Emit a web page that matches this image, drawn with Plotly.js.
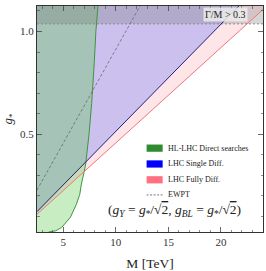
<!DOCTYPE html>
<html>
<head>
<meta charset="utf-8">
<script src="https://cdn.plot.ly/plotly-3.0.1.min.js"></script>
<style>html,body{margin:0;padding:0;background:#fff;}#chart{width:266px;height:271px;}</style>
</head>
<body>
<div id="chart"></div>
<script>
// ---- data ----
const xRange = [2.5, 24];
const yRange = [0.024, 1.124];
const gTop = 1.3;                 // fill ceiling (beyond visible range)
const widthBoundG = 1.037;        // Gamma/M > 0.3 threshold in g*
// HL-LHC direct searches boundary (excluded to the left)
const directM = [3.4, 3.6, 4.3, 4.86, 5.67, 6.24, 6.57, 6.72, 7.0, 7.14, 7.45, 7.7, 7.95, 8.1, 8.3, 8.35];
const directG = [0.0, 0.024, 0.03, 0.047, 0.095, 0.158, 0.207, 0.257, 0.32, 0.358, 0.5, 0.65, 0.85, 1.0, 1.124, 1.2];
// LHC single differential bound (excluded above)
const singleM = [2.5, 24];
const singleG = [0.123, 1.244];
// LHC fully differential bound (excluded above)
const fullyM = [2.5, 24];
const fullyG = [0.110, 1.107];
// EWPT bound
const ewptM = [2.5, 12.3];
const ewptG = [0.228, 1.124];
const legendNames = ['HL-LHC Direct searches', 'LHC Single Diff.', 'LHC Fully Diff.', 'EWPT'];

const serif = 'Liberation Serif, Times New Roman, serif';

function above(M, G) {
  return {x: M.concat([M[M.length-1], M[0]]), y: G.concat([gTop, gTop])};
}
const pinkPoly = above(fullyM, fullyG);
const bluePoly = above(singleM, singleG);
const greenPoly = {x: [xRange[0]].concat(directM, [xRange[0]]), y: [0].concat(directG, [directG[directG.length-1]])};
const bandPoly = {x: [xRange[0], xRange[1], xRange[1], xRange[0]], y: [widthBoundG, widthBoundG, gTop, gTop]};

const traces = [
  {x: pinkPoly.x, y: pinkPoly.y, fill: 'toself', fillcolor: 'rgba(245,125,140,0.2)', line: {width: 0}, mode: 'lines', hoverinfo: 'skip'},
  {x: bluePoly.x, y: bluePoly.y, fill: 'toself', fillcolor: 'rgba(90,106,252,0.3)', line: {width: 0}, mode: 'lines', hoverinfo: 'skip'},
  {x: greenPoly.x, y: greenPoly.y, fill: 'toself', fillcolor: 'rgba(88,200,70,0.33)', line: {width: 0}, mode: 'lines', hoverinfo: 'skip'},
  {x: bandPoly.x, y: bandPoly.y, fill: 'toself', fillcolor: 'rgba(120,120,120,0.3)', line: {width: 0}, mode: 'lines', hoverinfo: 'skip'},
  {x: xRange, y: [widthBoundG, widthBoundG], mode: 'lines', line: {color: '#8a8a8a', width: 1, dash: '2px,2px'}},
  {x: directM, y: directG, mode: 'lines', line: {color: '#3c973c', width: 1}},
  {x: fullyM, y: fullyG, mode: 'lines', line: {color: '#f27482', width: 1}},
  {x: singleM, y: singleG, mode: 'lines', line: {color: '#20207e', width: 1}},
  {x: ewptM, y: ewptG, mode: 'lines', line: {color: '#6a6a6a', width: 0.8, dash: '3px,2px'}}
];

const legColors = ['#2e8b2e', '#0000ff', '#ff7080'];
const legY = [0.371, 0.301, 0.231, 0.164];
const shapes = [];
const annotations = [];
for (let i = 0; i < 3; i++) {
  shapes.push({type: 'rect', xref: 'paper', yref: 'paper', x0: 0.485, x1: 0.556, y0: legY[i]-0.016, y1: legY[i]+0.016, fillcolor: legColors[i], line: {width: 0}});
}
shapes.push({type: 'line', xref: 'paper', yref: 'paper', x0: 0.485, x1: 0.556, y0: legY[3], y1: legY[3], line: {color: '#555', width: 0.8, dash: '2px,1.5px'}});
for (let i = 0; i < 4; i++) {
  annotations.push({xref: 'paper', yref: 'paper', x: 0.572, y: legY[i], xanchor: 'left', yanchor: 'middle', text: legendNames[i], showarrow: false, font: {family: serif, size: 8, color: '#222'}});
}
annotations.push({xref: 'paper', yref: 'paper', x: 0.935, y: 0.962, xanchor: 'right', yanchor: 'middle', text: 'Γ/M > 0.3', showarrow: false, font: {family: serif, size: 10, color: '#222'}, bgcolor: 'rgba(236,236,236,0.85)', borderpad: 1});
annotations.push({xref: 'paper', yref: 'paper', x: 0.61, y: 0.093, xanchor: 'center', yanchor: 'middle', showarrow: false,
  text: '(<i>g</i><sub><i>Y</i></sub> = <i>g</i><sub>*</sub>/√<span style="text-decoration:overline">2</span>, <i>g</i><sub><i>BL</i></sub> = <i>g</i><sub>*</sub>/√<span style="text-decoration:overline">2</span>)',
  font: {family: serif, size: 13.5, color: '#222'}});

const axisCommon = {
  showgrid: false, zeroline: false, showline: true, linecolor: '#333', linewidth: 1,
  mirror: 'allticks', ticks: 'inside', ticklen: 5, tickwidth: 0.8, tickcolor: '#444',
  tickfont: {family: serif, size: 11, color: '#333'}
};

const layout = {
  width: 266, height: 271,
  margin: {l: 37, r: 3, t: 5.5, b: 39, pad: 0},
  paper_bgcolor: '#fff', plot_bgcolor: '#fff',
  showlegend: false,
  xaxis: Object.assign({}, axisCommon, {range: xRange, tickmode: 'linear', tick0: 0, dtick: 5,
    minor: {dtick: 1, tick0: 0, ticks: 'inside', ticklen: 2.5, tickcolor: '#444', tickwidth: 0.6},
    title: {text: 'M [TeV]', font: {family: serif, size: 13.5, color: '#222'}, standoff: 11}}),
  yaxis: Object.assign({}, axisCommon, {range: yRange, tickmode: 'linear', tick0: 0, dtick: 0.5, tickformat: '.1f',
    minor: {dtick: 0.1, tick0: 0, ticks: 'inside', ticklen: 2.5, tickcolor: '#444', tickwidth: 0.6},
    title: {text: '<i>g</i><sub>*</sub>', font: {family: serif, size: 13, color: '#222'}, standoff: 6}}),
  shapes: shapes,
  annotations: annotations
};

Plotly.newPlot('chart', traces, layout, {staticPlot: true, displayModeBar: false});
</script>
</body>
</html>
